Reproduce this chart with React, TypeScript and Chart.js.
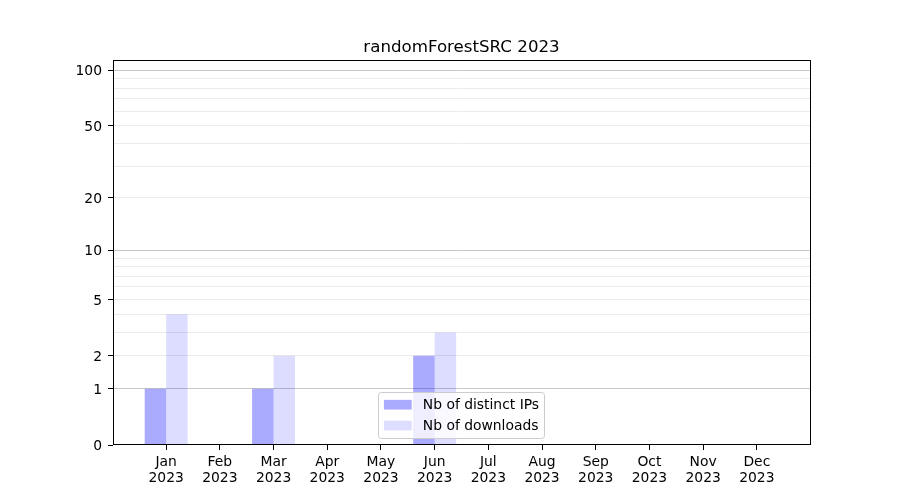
import React, { useEffect, useRef } from "react";
import { Chart, registerables } from "chart.js";

Chart.register(...registerables);

// ---- data ----
const months = ["Jan", "Feb", "Mar", "Apr", "May", "Jun", "Jul", "Aug", "Sep", "Oct", "Nov", "Dec"];
const yearLabel = "2023";
const distinctIPs = [1, 0, 1, 0, 0, 2, 0, 0, 0, 0, 0, 0];
const downloads = [4, 0, 2, 0, 0, 3, 0, 0, 0, 0, 0, 0];
const yTickValues = [0, 1, 2, 3, 4, 5, 6, 7, 8, 9, 10, 20, 30, 40, 50, 60, 70, 80, 90, 100];
const yLabelled = [0, 1, 2, 5, 10, 20, 50, 100];
const yMajorGrid = [1, 10, 100];
const yTop = 113.5;
const xMin = -0.99;
const xMax = 11.99;
const titleText = "randomForestSRC 2023";
const seriesLabels = ["Nb of distinct IPs", "Nb of downloads"];

const tf = (v: number) => Math.log10(1 + v);
const FS = 13.89;
const FONT = '"DejaVu Sans", sans-serif';

const framePlugin = {
  id: "frame",
  afterDatasetsDraw(chart: any) {
    const { ctx, chartArea } = chart;
    ctx.save();
    ctx.strokeStyle = "#000";
    ctx.lineWidth = 1;
    const l = Math.round(chartArea.left) + 0.5;
    const r = Math.round(chartArea.right) + 0.5;
    const t = Math.round(chartArea.top) + 0.5;
    const b = Math.round(chartArea.bottom) - 0.5;
    ctx.strokeRect(l, t, r - l, b - t);
    ctx.restore();
  },
};

const legendPlugin = {
  id: "mplLegend",
  afterDraw(chart: any) {
    const { ctx, chartArea } = chart;
    const fs = FS;
    const pad = 0.4 * fs;
    const handleLen = 2 * fs;
    const handlePad = 0.8 * fs;
    const spacing = 0.5 * fs;
    const ds = chart.data.datasets;
    ctx.save();
    ctx.font = `${fs}px ${FONT}`;
    const textW = Math.max(...ds.map((d: any) => ctx.measureText(d.label).width));
    const w = pad * 2 + handleLen + handlePad + textW;
    const h = pad * 2 + ds.length * fs + (ds.length - 1) * spacing;
    const x = (chartArea.left + chartArea.right) / 2 - w / 2;
    const y = chartArea.bottom - 0.5 * fs - h;
    ctx.beginPath();
    (ctx as any).roundRect(Math.round(x) + 0.5, Math.round(y) + 0.5, Math.round(w), Math.round(h), 0.2 * fs);
    ctx.fillStyle = "rgba(255,255,255,0.8)";
    ctx.fill();
    ctx.strokeStyle = "#cccccc";
    ctx.lineWidth = 1;
    ctx.stroke();
    ds.forEach((d: any, i: number) => {
      const rowTop = y + pad + i * (fs + spacing);
      ctx.fillStyle = d.backgroundColor;
      ctx.fillRect(x + pad, rowTop + 0.15 * fs, handleLen, 0.7 * fs);
      ctx.fillStyle = "#000";
      ctx.textBaseline = "middle";
      ctx.textAlign = "left";
      ctx.fillText(d.label, x + pad + handleLen + handlePad, rowTop + fs / 2 + 0.5);
    });
    ctx.restore();
  },
};

export default function App() {
  const canvasRef = useRef<HTMLCanvasElement | null>(null);

  useEffect(() => {
    if (!canvasRef.current) return;
    Chart.defaults.font.family = FONT;
    Chart.defaults.color = "#000";
    const chart = new Chart(canvasRef.current, {
      type: "bar",
      data: {
        datasets: [
          {
            label: seriesLabels[0],
            data: months.map((_, i) => ({ x: i, y: tf(distinctIPs[i]) })),
            backgroundColor: "rgba(0,0,255,0.333)",
            borderWidth: 0,
            categoryPercentage: 0.8,
            barPercentage: 1.0,
          },
          {
            label: seriesLabels[1],
            data: months.map((_, i) => ({ x: i, y: tf(downloads[i]) })),
            backgroundColor: "rgba(0,0,255,0.133)",
            borderWidth: 0,
            categoryPercentage: 0.8,
            barPercentage: 1.0,
          },
        ],
      } as any,
      options: {
        responsive: false,
        animation: false,
        layout: { padding: { left: 0, right: 90, top: 0, bottom: 0 } },
        plugins: {
          legend: { display: false },
          tooltip: { enabled: false },
          title: {
            display: true,
            text: titleText,
            fullSize: false,
            color: "#000",
            font: { size: 16.67, weight: "normal", family: FONT, lineHeight: 1.2 },
            padding: { top: 38, bottom: 2 },
          },
        },
        scales: {
          x: {
            type: "linear",
            min: xMin,
            max: xMax,
            offset: false,
            afterBuildTicks: (s: any) => {
              s.ticks = months.map((_, i) => ({ value: i }));
            },
            afterFit: (s: any) => {
              s.height = 55;
            },
            ticks: {
              autoSkip: false,
              maxRotation: 0,
              minRotation: 0,
              padding: 4,
              color: "#000",
              font: { size: FS, lineHeight: 1.15 },
              callback: (_v: any, i: number) => [months[i], yearLabel],
            },
            grid: { display: true, drawOnChartArea: false, offset: false, tickLength: 5, tickColor: "#000" },
            border: { display: false },
          },
          y: {
            type: "linear",
            min: 0,
            max: tf(yTop),
            afterBuildTicks: (s: any) => {
              s.ticks = yTickValues.map((v) => ({ value: tf(v) }));
            },
            afterFit: (s: any) => {
              s.width = 113;
            },
            ticks: {
              autoSkip: false,
              padding: 6,
              labelOffset: 1.5,
              color: "#000",
              font: { size: FS },
              callback: (_v: any, i: number) =>
                yLabelled.includes(yTickValues[i]) ? String(yTickValues[i]) : "",
            },
            grid: {
              lineWidth: 1,
              tickLength: 5,
              color: (c: any) => {
                const v = yTickValues[c.index];
                if (v === 0) return "rgba(0,0,0,0)";
                return yMajorGrid.includes(v) ? "#c8c8c8" : "#ebebeb";
              },
              tickColor: (c: any) =>
                yLabelled.includes(yTickValues[c.index]) ? "#000" : "rgba(0,0,0,0)",
            },
            border: { display: false },
          },
        },
      } as any,
      plugins: [framePlugin, legendPlugin],
    });
    return () => chart.destroy();
  }, []);

  return (
    <div style={{ position: "fixed", left: 0, top: 0, width: 900, height: 500, background: "#fff" }}>
      <canvas ref={canvasRef} width={900} height={500} style={{ display: "block" }} />
    </div>
  );
}
